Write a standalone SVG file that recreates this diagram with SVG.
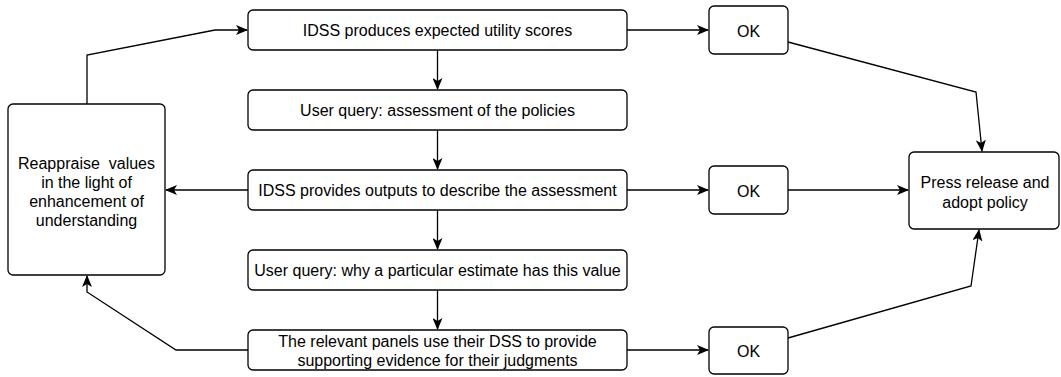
<svg xmlns="http://www.w3.org/2000/svg" width="1061" height="377" viewBox="0 0 1061 377">
  <style>
    .box { fill: #ffffff; stroke: #000000; stroke-width: 1.3; }
    .lbl { font-family: "Liberation Sans", Arial, sans-serif; font-size: 16px; fill: #000000; text-anchor: middle; dominant-baseline: central; }
    .edge { fill: none; stroke: #000000; stroke-width: 1.3; marker-end: url(#arrow); }
  </style>
  <defs>
    <marker id="arrow" viewBox="0 0 12 10" refX="11" refY="5" markerWidth="12" markerHeight="10" markerUnits="userSpaceOnUse" orient="auto">
      <path d="M0,0 L12,5 L0,10 L3,5 Z" fill="#000000"/>
    </marker>
  </defs>
  <rect width="1061" height="377" fill="#ffffff"/>

  <g id="connectors">
    <!-- loop back from the reappraise box to the first step -->
    <path class="edge" d="M87,104 L87,55 L215,30 L247,30"/>
    <!-- main column, top to bottom -->
    <path class="edge" d="M437.5,50 L437.5,89"/>
    <path class="edge" d="M437.5,130 L437.5,169"/>
    <path class="edge" d="M437.5,210 L437.5,249"/>
    <path class="edge" d="M437.5,290 L437.5,329"/>
    <!-- to the OK boxes -->
    <path class="edge" d="M627,30 L708,30"/>
    <path class="edge" d="M627,190 L708,190"/>
    <path class="edge" d="M627,350 L708,350"/>
    <!-- to the reappraise box -->
    <path class="edge" d="M248,190 L166,190"/>
    <path class="edge" d="M248,350 L176,350 L87,292 L87,276"/>
    <!-- OK boxes to press release -->
    <path class="edge" d="M788,42 L976,92 L982,151"/>
    <path class="edge" d="M788,190 L908,190"/>
    <path class="edge" d="M788,338 L971,286 L979,230"/>
  </g>

  <g id="n-scores">
    <rect class="box" x="248" y="10" width="379" height="40" rx="5"/>
    <text class="lbl" x="437.5" y="30">IDSS produces expected utility scores</text>
  </g>
  <g id="n-query-policies">
    <rect class="box" x="248" y="90" width="379" height="40" rx="5"/>
    <text class="lbl" x="437.5" y="110">User query: assessment of the policies</text>
  </g>
  <g id="n-outputs">
    <rect class="box" x="248" y="170" width="379" height="40" rx="5"/>
    <text class="lbl" x="437.5" y="190">IDSS provides outputs to describe the assessment</text>
  </g>
  <g id="n-query-estimate">
    <rect class="box" x="248" y="250" width="379" height="40" rx="5"/>
    <text class="lbl" x="437.5" y="270">User query: why a particular estimate has this value</text>
  </g>
  <g id="n-panels">
    <rect class="box" x="248" y="330" width="379" height="40" rx="5"/>
    <text class="lbl" x="437.5" y="341">The relevant panels use their DSS to provide</text>
    <text class="lbl" x="437.5" y="360">supporting evidence for their judgments</text>
  </g>
  <g id="n-reappraise">
    <rect class="box" x="8" y="104" width="157" height="171" rx="5"/>
    <text class="lbl" x="86.5" y="163">Reappraise&#160; values</text>
    <text class="lbl" x="86.5" y="182">in the light of</text>
    <text class="lbl" x="86.5" y="201">enhancement of</text>
    <text class="lbl" x="86.5" y="220">understanding</text>
  </g>
  <g id="n-ok-top">
    <rect class="box" x="709" y="6" width="79" height="48" rx="5"/>
    <text class="lbl" x="748.5" y="31">OK</text>
  </g>
  <g id="n-ok-mid">
    <rect class="box" x="709" y="166" width="79" height="48" rx="5"/>
    <text class="lbl" x="748.5" y="191">OK</text>
  </g>
  <g id="n-ok-bottom">
    <rect class="box" x="709" y="327" width="79" height="47" rx="5"/>
    <text class="lbl" x="748.5" y="351">OK</text>
  </g>
  <g id="n-press">
    <rect class="box" x="909" y="152" width="150" height="77" rx="5"/>
    <text class="lbl" x="985" y="182">Press release and</text>
    <text class="lbl" x="985" y="202">adopt policy</text>
  </g>
</svg>
